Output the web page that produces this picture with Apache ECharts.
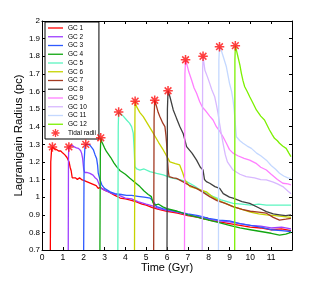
<!DOCTYPE html>
<html><head><meta charset="utf-8">
<script src="https://cdn.jsdelivr.net/npm/echarts@6/dist/echarts.min.js"></script>
<style>html,body{margin:0;padding:0;background:#fff}#c{width:322px;height:281px}</style>
</head><body><div id="c"></div>
<script>
const seriesNames = ['GC 1','GC 2','GC 3','GC 4','GC 5','GC 6','GC 7','GC 8','GC 9','GC 10','GC 11','GC 12'];
const seriesColors = ['#ff0000','#9f3fff','#2e5bff','#11a611','#5cf5c0','#c6d300','#a33a22','#404040','#ff7fff','#d8b8ff','#c4d8ff','#7cf000'];
const xTicks = [0,1,2,3,4,5,6,7,8,9,10,11];
const yTicks = [0.7,0.8,0.9,1,1.1,1.2,1.3,1.4,1.5,1.6,1.7,1.8,1.9,2];

const gc1 = [[0.40,0.70],[0.42,1.20],[0.46,1.27],[0.50,1.285],[0.6,1.275],[0.7,1.27],[0.8,1.262],[0.9,1.262],[1.0,1.25],[1.1,1.24],[1.2,1.225],[1.3,1.20],[1.35,1.17],[1.4,1.15],[1.45,1.11],[1.5,1.10],[1.6,1.11],[1.7,1.10],[1.8,1.11],[1.9,1.10],[2.0,1.095],[2.2,1.085],[2.4,1.075],[2.6,1.065],[2.7,1.05],[2.8,1.055],[3.0,1.04],[3.2,1.03],[3.5,1.01],[3.75,0.995],[4.0,0.99],[4.2,0.985],[4.5,0.975],[4.8,0.96],[5.0,0.955],[5.3,0.94],[5.6,0.93],[6.0,0.92],[6.5,0.91],[7.0,0.895],[7.5,0.885],[7.8,0.875],[7.9,0.885],[8.0,0.87],[8.5,0.86],[9.0,0.85],[9.5,0.84],[10.0,0.83],[10.5,0.825],[11.0,0.815],[11.5,0.82],[11.95,0.81]];
const gc2 = [[1.26,0.70],[1.27,1.20],[1.28,1.27],[1.29,1.285],[1.35,1.29],[1.45,1.295],[1.55,1.285],[1.65,1.28],[1.75,1.277],[1.85,1.265],[1.9,1.25],[1.95,1.22],[2.0,1.16],[2.05,1.14],[2.15,1.14],[2.3,1.135],[2.45,1.125],[2.55,1.11],[2.65,1.10],[2.75,1.07],[2.85,1.05],[3.0,1.04],[3.2,1.03],[3.4,1.02],[3.7,1.01],[4.0,0.995],[4.3,0.99],[4.6,0.975],[5.0,0.96],[5.3,0.95],[5.6,0.935],[6.0,0.925],[6.5,0.915],[7.0,0.90],[7.5,0.89],[8.0,0.875],[8.5,0.865],[9.0,0.86],[9.5,0.85],[10.0,0.84],[10.5,0.835],[11.0,0.825],[11.5,0.83],[11.95,0.82]];
const gc3 = [[2.0,0.70],[2.02,1.2],[2.06,1.28],[2.1,1.30],[2.2,1.30],[2.3,1.295],[2.4,1.28],[2.47,1.268],[2.55,1.24],[2.62,1.22],[2.67,1.18],[2.7,1.136],[2.78,1.10],[2.87,1.07],[3.0,1.05],[3.27,1.03],[3.5,1.02],[3.8,1.015],[4.06,1.01],[4.3,1.01],[4.6,1.005],[4.9,1.0],[5.2,0.994],[5.35,0.975],[5.5,0.946],[5.8,0.935],[6.2,0.925],[6.6,0.915],[7.0,0.905],[7.5,0.895],[8.0,0.88],[8.5,0.87],[9.0,0.865],[9.5,0.85],[10.0,0.84],[10.5,0.83],[11.0,0.815],[11.5,0.81],[11.95,0.805]];
const gc4 = [[2.78,0.70],[2.80,1.25],[2.82,1.337],[2.87,1.315],[3.0,1.28],[3.1,1.258],[3.3,1.225],[3.45,1.195],[3.58,1.173],[3.75,1.15],[4.0,1.13],[4.22,1.107],[4.45,1.085],[4.7,1.06],[4.9,1.035],[5.1,1.015],[5.25,1.003],[5.32,0.97],[5.4,0.955],[5.6,0.96],[5.8,0.945],[6.0,0.935],[6.5,0.92],[7.0,0.90],[7.5,0.885],[8.0,0.87],[8.5,0.855],[9.0,0.84],[9.5,0.825],[10.0,0.815],[10.5,0.805],[11.0,0.795],[11.4,0.785],[11.7,0.79],[11.95,0.80]];
const gc5 = [[3.64,0.70],[3.66,1.40],[3.68,1.483],[3.75,1.476],[3.9,1.46],[4.06,1.438],[4.2,1.42],[4.3,1.40],[4.38,1.363],[4.42,1.28],[4.46,1.173],[4.55,1.16],[4.7,1.154],[4.9,1.16],[5.18,1.145],[5.5,1.135],[5.82,1.126],[6.2,1.11],[6.6,1.10],[6.94,1.088],[7.3,1.065],[7.73,1.031],[8.2,1.005],[8.6,0.985],[9.17,0.965],[9.6,0.96],[10.0,0.955],[10.4,0.96],[10.77,0.955],[11.2,0.955],[11.6,0.955],[11.95,0.955]];
const gc6 = [[4.44,0.70],[4.46,1.45],[4.47,1.545],[4.54,1.514],[4.7,1.48],[4.86,1.457],[5.1,1.41],[5.34,1.363],[5.6,1.31],[5.82,1.268],[6.0,1.23],[6.14,1.20],[6.4,1.19],[6.61,1.183],[6.75,1.14],[6.86,1.098],[7.1,1.06],[7.5,1.045],[7.89,1.03],[8.2,1.0],[8.6,0.975],[9.17,0.946],[9.6,0.93],[10.0,0.915],[10.4,0.905],[10.77,0.899],[11.2,0.895],[11.6,0.89],[11.95,0.885]];
const gc7 = [[5.36,0.70],[5.38,1.45],[5.41,1.55],[5.5,1.514],[5.58,1.48],[5.66,1.457],[5.8,1.42],[5.9,1.40],[5.95,1.35],[5.98,1.306],[6.02,1.22],[6.06,1.15],[6.1,1.116],[6.3,1.11],[6.46,1.107],[6.8,1.085],[7.1,1.065],[7.42,1.05],[7.7,1.03],[8.05,1.003],[8.4,0.98],[8.8,0.965],[9.17,0.946],[9.6,0.93],[10.0,0.92],[10.4,0.915],[10.77,0.909],[11.1,0.885],[11.4,0.87],[11.7,0.875],[11.95,0.88]];
const gc8 = [[6.0,0.70],[6.02,1.5],[6.05,1.604],[6.14,1.57],[6.3,1.495],[6.45,1.45],[6.62,1.40],[6.78,1.36],[6.94,1.287],[7.2,1.25],[7.42,1.21],[7.6,1.17],[7.73,1.154],[7.8,1.10],[7.89,1.088],[8.05,1.079],[8.3,1.06],[8.53,1.05],[8.7,1.02],[9.0,1.0],[9.17,0.994],[9.6,0.975],[9.97,0.965],[10.4,0.94],[10.77,0.918],[11.1,0.905],[11.4,0.90],[11.7,0.895],[11.95,0.90]];
const gc9 = [[6.84,0.70],[6.86,1.70],[6.89,1.78],[6.94,1.76],[7.05,1.71],[7.18,1.665],[7.3,1.62],[7.42,1.59],[7.57,1.542],[7.7,1.51],[7.82,1.495],[7.9,1.49],[8.05,1.46],[8.21,1.438],[8.37,1.40],[8.55,1.37],[8.69,1.343],[8.85,1.306],[9.0,1.27],[9.17,1.25],[9.4,1.235],[9.7,1.22],[9.97,1.21],[10.3,1.19],[10.5,1.17],[10.77,1.154],[11.0,1.13],[11.3,1.10],[11.56,1.079],[11.8,1.075],[11.95,1.07]];
const gc10 = [[7.69,0.70],[7.71,1.72],[7.73,1.80],[7.82,1.72],[7.95,1.68],[8.05,1.646],[8.15,1.61],[8.29,1.57],[8.38,1.52],[8.45,1.476],[8.52,1.42],[8.6,1.363],[8.7,1.30],[8.8,1.24],[8.9,1.20],[9.17,1.154],[9.5,1.13],[9.8,1.116],[10.2,1.11],[10.5,1.10],[10.77,1.098],[11.1,1.085],[11.3,1.075],[11.56,1.06],[11.8,1.035],[11.95,1.02]];
const gc11 = [[8.47,0.70],[8.49,1.78],[8.52,1.854],[8.6,1.835],[8.72,1.79],[8.85,1.74],[9.0,1.646],[9.1,1.60],[9.17,1.55],[9.22,1.50],[9.27,1.43],[9.33,1.343],[9.5,1.32],[9.65,1.306],[9.85,1.29],[10.05,1.277],[10.3,1.25],[10.5,1.235],[10.77,1.21],[11.0,1.18],[11.2,1.16],[11.4,1.136],[11.6,1.12],[11.8,1.11],[11.95,1.107]];
const gc12 = [[9.25,0.70],[9.26,1.78],[9.28,1.86],[9.4,1.80],[9.5,1.75],[9.57,1.703],[9.65,1.66],[9.73,1.627],[9.85,1.60],[9.97,1.57],[10.1,1.54],[10.29,1.495],[10.5,1.46],[10.68,1.438],[10.8,1.41],[10.92,1.381],[11.05,1.355],[11.16,1.334],[11.3,1.32],[11.4,1.306],[11.55,1.29],[11.72,1.277],[11.85,1.25],[11.95,1.23]];
const tidalRadii = [[0.5,1.285],[1.29,1.285],[2.1,1.30],[2.82,1.337],[3.68,1.483],[4.47,1.545],[5.41,1.55],[6.05,1.604],[6.89,1.78],[7.73,1.80],[8.52,1.854],[9.28,1.86]];

const allData = [gc1,gc2,gc3,gc4,gc5,gc6,gc7,gc8,gc9,gc10,gc11,gc12];
const starPath = 'path://M0,8.4 L20,8.4 L20,11.6 L0,11.6 Z M8.4,0 L11.6,0 L11.6,20 L8.4,20 Z M1.8,4.06 L4.06,1.8 L18.2,15.94 L15.94,18.2 Z M4.06,18.2 L1.8,15.94 L15.94,1.8 L18.2,4.06 Z';
const lineIcon = 'path://M0,0 M15,8 M0,3.35 L15,3.35 L15,4.65 L0,4.65 Z';
const FONT = 'Liberation Sans, Arial, Helvetica, sans-serif';

const series = allData.map((d, i) => ({
  name: seriesNames[i], type: 'line', data: d, symbol: 'none', clip: true,
  lineStyle: {color: seriesColors[i], width: 1.3}, itemStyle: {color: seriesColors[i]},
  animation: false
}));
series.push({
  name: 'Tidal radii', type: 'scatter', data: tidalRadii, symbol: starPath, symbolSize: 9.5,
  itemStyle: {color: '#ff1010'}, z: 5, animation: false
});

const legendData = seriesNames.map((n, i) => ({name: n, icon: lineIcon, itemStyle: {color: seriesColors[i]}}))
  .concat([{name: 'Tidal radii', icon: starPath, itemStyle: {color: '#ff1010'}}]);

const chart = echarts.init(document.getElementById('c'), null, {renderer: 'canvas'});
chart.setOption({
  backgroundColor: '#fff',
  animation: false,
  grid: {left: 42, right: 30, top: 21, bottom: 31, containLabel: false, outerBoundsMode: 'none'},
  legend: {
    orient: 'vertical', left: 45, top: 22,
    data: legendData,
    backgroundColor: '#fff', borderColor: '#000', borderWidth: 1,
    padding: [2, 3, 2, 3],
    itemWidth: 15, itemHeight: 8, itemGap: 0.75,
    textStyle: {fontFamily: FONT, fontSize: 6.5, color: '#000', lineHeight: 8},
    selectedMode: false
  },
  xAxis: [{
    type: 'value', min: 0, max: 12, interval: 1,
    name: 'Time (Gyr)', nameLocation: 'middle', nameGap: 12, nameMoveOverlap: false,
    nameTextStyle: {fontFamily: FONT, fontSize: 11, color: '#000'},
    axisLine: {onZero: false, lineStyle: {color: '#000', width: 1}},
    axisTick: {inside: true, length: 3, lineStyle: {color: '#000'}},
    axisLabel: {fontFamily: FONT, fontSize: 8.5, color: '#000', margin: 3,
      formatter: v => (v >= 12 ? '' : String(v))},
    splitLine: {show: false}
  }, {
    type: 'value', min: 0, max: 12, interval: 1, position: 'top',
    axisLine: {show: true, onZero: false, lineStyle: {color: '#000', width: 1}},
    axisTick: {show: true, inside: true, length: 3, lineStyle: {color: '#000'}},
    axisLabel: {show: false}, splitLine: {show: false}
  }],
  yAxis: [{
    type: 'value', min: 0.7, max: 2, interval: 0.1,
    name: 'Lagranigain Radius (pc)', nameLocation: 'middle', nameGap: 17, nameMoveOverlap: false,
    nameTextStyle: {fontFamily: FONT, fontSize: 11.5, color: '#000'},
    axisLine: {show: true, onZero: false, lineStyle: {color: '#000', width: 1}},
    axisTick: {inside: true, length: 3, lineStyle: {color: '#000'}},
    axisLabel: {fontFamily: FONT, fontSize: 8, color: '#000', margin: 2,
      formatter: v => String(Math.round(v * 10) / 10)},
    splitLine: {show: false}
  }, {
    type: 'value', min: 0.7, max: 2, interval: 0.1, position: 'right',
    axisLine: {show: true, onZero: false, lineStyle: {color: '#000', width: 1}},
    axisTick: {show: true, inside: true, length: 3, lineStyle: {color: '#000'}},
    axisLabel: {show: false}, splitLine: {show: false}
  }],
  series: series
});
</script>
</body></html>
